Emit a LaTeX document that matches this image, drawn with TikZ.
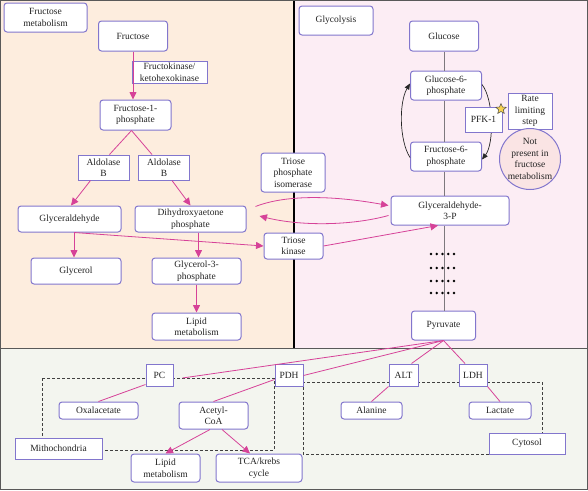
\documentclass[tikz,border=0pt]{standalone}
\usepackage{fontspec}
\setmainfont{Liberation Serif}
\usetikzlibrary{arrows.meta,shapes.geometric,calc}
\definecolor{bcol}{RGB}{130,118,205}
\definecolor{pk}{RGB}{214,66,152}
\definecolor{orbg}{RGB}{253,237,222}
\definecolor{pibg}{RGB}{252,237,244}
\definecolor{grbg}{RGB}{243,245,239}
\definecolor{circbg}{RGB}{250,228,228}
\definecolor{txt}{RGB}{35,35,35}
\definecolor{glin}{RGB}{125,120,125}
\definecolor{stary}{RGB}{247,210,80}
\begin{document}
\begin{tikzpicture}[x=1pt,y=-1pt,
 font=\fontsize{9.5}{11.5}\selectfont, text=txt,
 rbox/.style={draw=bcol,fill=white,rounded corners=3pt,align=center,inner sep=0pt,line width=1pt},
 sbox/.style={draw=bcol,fill=white,align=center,inner sep=0pt,line width=1pt},
 pline/.style={draw=pk,line width=0.8pt},
 parr/.style={pline,-{Triangle[length=7.5pt,width=7pt]}},
 barr/.style={draw=black!85,line width=0.7pt,-{Triangle[length=6pt,width=5pt]}},
 gline/.style={draw=glin,line width=1pt},
 dashrect/.style={draw=black!75,line width=0.8pt,dash pattern=on 3pt off 2pt}]
\useasboundingbox (0,0) rectangle (588,490);
% panels
\fill[orbg] (0,0) rectangle (294,348);
\fill[pibg] (294,0) rectangle (588,348);
\fill[grbg] (0,348) rectangle (588,490);
\draw[black!65,line width=1pt] (0,348) -- (588,348);
\draw[black,line width=1.2pt] (294,0) -- (294,348);
\draw[black!65,line width=1.2pt] (0.6,0.6) rectangle (587.4,489.4);

% fructose metabolism
\node[rbox,minimum width=83pt,minimum height=29pt] (fm) at (45.5,17.5) {Fructose\\metabolism};
\node[rbox,minimum width=69pt,minimum height=30pt] (fru) at (133,36) {Fructose};
\node[sbox,minimum width=75pt,minimum height=22pt] (fk) at (169.5,72) {Fructokinase/\\ketohexokinase};
\node[rbox,minimum width=71pt,minimum height=30pt] (f1p) at (135.5,115) {Fructose-1-\\phosphate};
\node[sbox,minimum width=51pt,minimum height=25pt] (ald1) at (103.5,167.5) {Aldolase\\B};
\node[sbox,minimum width=51pt,minimum height=25pt] (ald2) at (164,167.5) {Aldolase\\B};
\node[rbox,minimum width=103pt,minimum height=26pt] (gald) at (69.5,219) {Glyceraldehyde};
\node[rbox,minimum width=111pt,minimum height=26pt] (dhap) at (190.5,219) {Dihydroxyaetone\\phosphate};
\node[rbox,minimum width=90pt,minimum height=26pt] (glyc) at (76,271) {Glycerol};
\node[rbox,minimum width=89pt,minimum height=26pt] (gol3p) at (196.5,271) {Glycerol-3-\\phosphate};
\node[rbox,minimum width=89pt,minimum height=27pt] (lip1) at (196.5,326.5) {Lipid\\metabolism};
\node[rbox,minimum width=64pt,minimum height=39pt] (tpi) at (293,172.5) {Triose\\phosphate\\isomerase};
\node[rbox,minimum width=59pt,minimum height=26pt] (tk) at (293.5,246) {Triose\\kinase};

% glycolysis
\node[rbox,minimum width=74pt,minimum height=29pt] (gly) at (336,20.5) {Glycolysis};
\node[rbox,minimum width=69pt,minimum height=30pt] (glu) at (444,36) {Glucose};
\node[rbox,minimum width=71pt,minimum height=29pt] (g6p) at (446,85.5) {Glucose-6-\\phosphate};
\node[rbox,minimum width=71pt,minimum height=29pt] (f6p) at (446,156.5) {Fructose-6-\\phosphate};
\node[rbox,minimum width=118pt,minimum height=29pt] (g3p) at (450,210.5) {Glyceraldehyde-\\3-P};
\node[rbox,minimum width=64pt,minimum height=29pt] (pyr) at (443.5,325.5) {Pyruvate};

\draw[gline] (glu.south) -- (glu.south |- g6p.north);
\draw[gline] (glu.south |- g6p.south) -- (glu.south |- f6p.north);
\draw[gline] (glu.south |- f6p.south) -- (glu.south |- g3p.north);
\draw[gline] (glu.south |- g3p.south) -- (glu.south |- pyr.north);
\foreach \yy in {254,268,281,293}
  \foreach \xx in {0,...,4}
    \fill[black] (431+\xx*5.75,\yy) circle (1.3pt);

\draw[barr] ([yshift=-1pt]f6p.west) .. controls (399,140) and (399,102) .. ([yshift=2pt]g6p.west);
\draw[barr] ([yshift=1pt]g6p.east) .. controls (494,100) and (494,144) .. ([yshift=-3pt]f6p.east);

\node[sbox,minimum width=37pt,minimum height=25pt] (pfk) at (483.5,119.5) {PFK-1};
\node[sbox,minimum width=44pt,minimum height=36pt] (rls) at (530,111) {Rate\\limiting\\step};
\node[star,star points=5,star point ratio=2.2,fill=stary,draw=black!70,line width=0.5pt,minimum size=11pt,inner sep=0pt] (st) at (501,109) {};
\node[circle,draw=bcol,fill=circbg,line width=1pt,minimum size=61pt,inner sep=0pt,align=center] (np) at (530,159) {Not\\present in\\fructose\\metabolism};

% fructose connectors
\draw[parr] (fru.south) -- (f1p.north -| fru.south);
\draw[pline] ([xshift=-4pt]f1p.south) -- ([xshift=6pt]ald1.north);
\draw[pline] ([xshift=-4pt]f1p.south) -- ([xshift=-12pt]ald2.north);
\draw[parr] ([xshift=-13pt]ald1.south) -- ([xshift=1.5pt]gald.north);
\draw[parr] ([xshift=8pt]ald2.south) -- (dhap.north);
\draw[parr] ([xshift=4.5pt]gald.south) -- ([xshift=4.5pt]gald.south |- glyc.north);
\draw[parr] ([xshift=4.5pt]gald.south) -- (tk.west);
\draw[parr] ([xshift=8pt]dhap.south) -- ([xshift=8pt]dhap.south |- gol3p.north);
\draw[parr] (gol3p.south) -- (lip1.north);
\draw[parr] ([xshift=9pt,yshift=-1pt]dhap.north east) .. controls (285,195) and (330,195) .. ([xshift=-2pt,yshift=5pt]g3p.west);
\draw[parr] ([xshift=-2pt,yshift=-5pt]g3p.west) .. controls (350,226) and (300,226) .. ([xshift=13pt,yshift=3pt]dhap.east);
\draw[parr] (tk.east) -- ([xshift=-12pt]g3p.south);

% bottom
\draw[dashrect] (42,378) rectangle (274,450);
\draw[dashrect] (303,382) rectangle (542,454);
\node[sbox,minimum width=27pt,minimum height=22pt] (pc) at (159.5,375) {PC};
\node[sbox,minimum width=28pt,minimum height=22pt] (pdh) at (289,375.5) {PDH};
\node[sbox,minimum width=29pt,minimum height=22pt] (alt) at (403.5,375) {ALT};
\node[sbox,minimum width=28pt,minimum height=22pt] (ldh) at (473,375) {LDH};
\node[rbox,minimum width=79pt,minimum height=17pt] (oxal) at (98.5,410.5) {Oxalacetate};
\node[rbox,minimum width=69pt,minimum height=27pt] (acoa) at (213.5,415.5) {Acetyl-\\CoA};
\node[sbox,minimum width=87pt,minimum height=21pt] (mito) at (58.5,448.5) {Mithochondria};
\node[rbox,minimum width=69pt,minimum height=28pt] (lip2) at (165.5,468) {Lipid\\metabolism};
\node[rbox,minimum width=86pt,minimum height=28pt] (tca) at (259,468) {TCA/krebs\\cycle};
\node[rbox,minimum width=61pt,minimum height=17pt] (alan) at (371.5,410.5) {Alanine};
\node[rbox,minimum width=62pt,minimum height=17pt] (lact) at (500,410.5) {Lactate};
\node[sbox,minimum width=76pt,minimum height=21pt] (cyt) at (527,443.5) {Cytosol};

\draw[pline] (pyr.south) -- ([xshift=9pt,yshift=-3pt]pc.east);
\draw[pline] (pyr.south) -- (pdh.east);
\draw[pline] (pyr.south) -- ([xshift=8pt]alt.north);
\draw[pline] (pyr.south) -- ([xshift=-8pt]ldh.north);
\draw[pline] ([yshift=2pt]pc.south west) -- (oxal.north);
\draw[pline] ([yshift=-4pt]pdh.west) -- (acoa.north);
\draw[pline] (alt.south west) -- (alan.north);
\draw[pline] (ldh.south east) -- (lact.north);
\draw[parr] ([xshift=-3.5pt]acoa.south) -- (lip2.north);
\draw[parr] ([xshift=8.5pt]acoa.south) -- ([xshift=-9pt]tca.north);
\end{tikzpicture}
\end{document}
